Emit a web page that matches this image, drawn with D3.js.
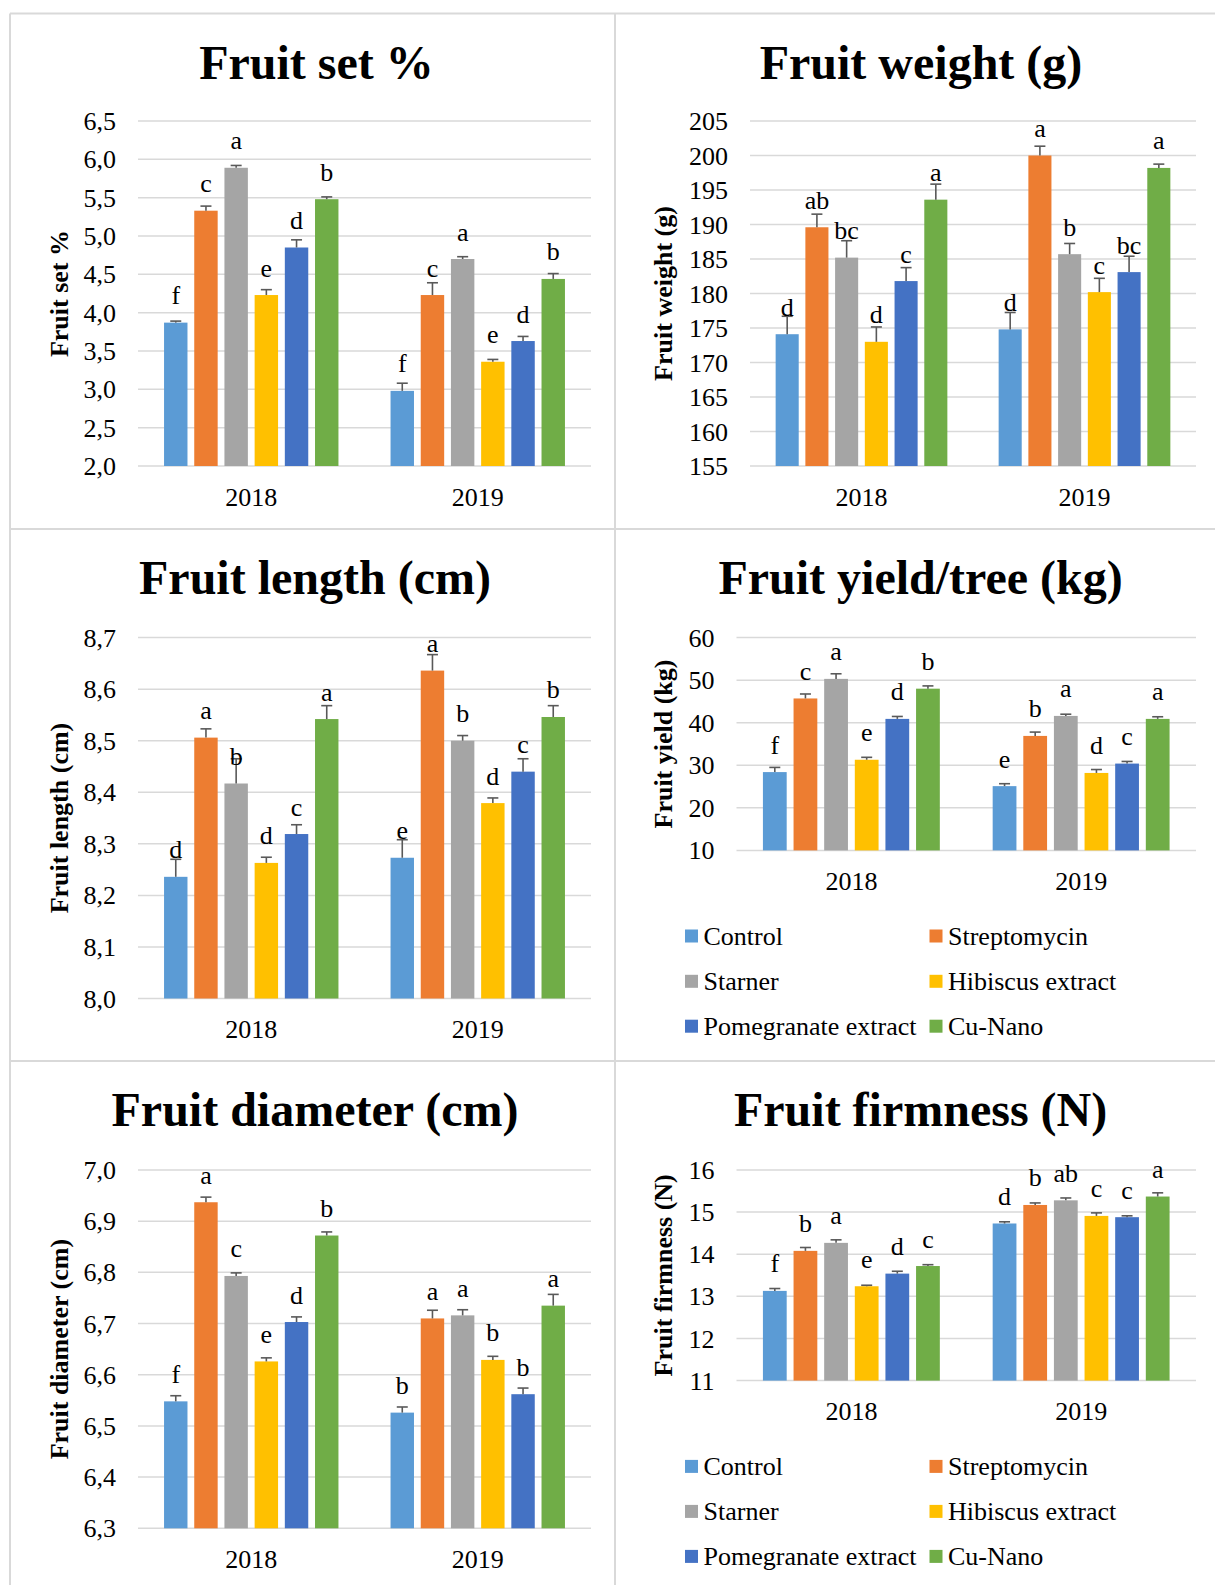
<!DOCTYPE html>
<html>
<head>
<meta charset="utf-8">
<script src="https://cdn.jsdelivr.net/npm/d3@7"></script>
<style>
  html, body { margin: 0; padding: 0; background: #fff; }
  svg { display: block; }
  text { font-family: "Liberation Serif", "Times New Roman", serif; fill: #000; }
</style>
</head>
<body>
<svg id="chart" width="1215" height="1585"></svg>
<script>
// ---------------- DATA ----------------
const years = ["2018", "2019"];
const treatments = ["Control", "Streptomycin", "Starner", "Hibiscus extract", "Pomegranate extract", "Cu-Nano"];
const treatmentColors = ["#5B9BD5", "#ED7D31", "#A5A5A5", "#FFC000", "#4472C4", "#70AD47"];

// Fruit set %
const fruitSetValues  = [[3.87, 5.33, 5.89, 4.23, 4.85, 5.48], [2.98, 4.23, 4.70, 3.36, 3.63, 4.44]];
const fruitSetErrors  = [[0.02, 0.06, 0.03, 0.07, 0.10, 0.03], [0.10, 0.16, 0.03, 0.03, 0.06, 0.07]];
const fruitSetLetters = [["f", "c", "a", "e", "d", "b"], ["f", "c", "a", "e", "d", "b"]];
const fruitSetTicks   = [2.0, 2.5, 3.0, 3.5, 4.0, 4.5, 5.0, 5.5, 6.0, 6.5];

// Fruit weight (g)
const fruitWeightValues  = [[174.1, 189.6, 185.2, 173.0, 181.8, 193.6], [174.8, 200.0, 185.7, 180.2, 183.1, 198.2]];
const fruitWeightErrors  = [[2.6, 1.9, 2.45, 2.15, 1.95, 2.25], [2.45, 1.35, 1.55, 2.0, 2.3, 0.55]];
const fruitWeightLetters = [["d", "ab", "bc", "d", "c", "a"], ["d", "a", "b", "c", "bc", "a"]];
const fruitWeightTicks   = [155, 160, 165, 170, 175, 180, 185, 190, 195, 200, 205];

// Fruit length (cm)
const fruitLengthValues  = [[8.236, 8.506, 8.417, 8.263, 8.319, 8.542], [8.273, 8.636, 8.500, 8.379, 8.440, 8.546]];
const fruitLengthErrors  = [[0.034, 0.017, 0.048, 0.011, 0.018, 0.026], [0.035, 0.031, 0.010, 0.010, 0.025, 0.022]];
const fruitLengthLetters = [["d", "a", "b", "d", "c", "a"], ["e", "a", "b", "d", "c", "b"]];
const fruitLengthTicks   = [8.0, 8.1, 8.2, 8.3, 8.4, 8.5, 8.6, 8.7];

// Fruit yield/tree (kg)
const fruitYieldValues  = [[28.4, 45.7, 50.3, 31.3, 40.9, 48.0], [25.1, 36.9, 41.6, 28.2, 30.4, 40.9]];
const fruitYieldErrors  = [[1.1, 1.05, 1.2, 0.57, 0.57, 0.65], [0.57, 0.9, 0.4, 0.8, 0.5, 0.5]];
const fruitYieldLetters = [["f", "c", "a", "e", "d", "b"], ["e", "b", "a", "d", "c", "a"]];
const fruitYieldTicks   = [10, 20, 30, 40, 50, 60];

// Fruit diameter (cm)
const fruitDiameterValues  = [[6.548, 6.937, 6.793, 6.626, 6.703, 6.872], [6.526, 6.710, 6.716, 6.629, 6.562, 6.735]];
const fruitDiameterErrors  = [[0.011, 0.010, 0.006, 0.007, 0.010, 0.007], [0.011, 0.016, 0.011, 0.007, 0.012, 0.022]];
const fruitDiameterLetters = [["f", "a", "c", "e", "d", "b"], ["b", "a", "a", "b", "b", "a"]];
const fruitDiameterTicks   = [6.3, 6.4, 6.5, 6.6, 6.7, 6.8, 6.9, 7.0];

// Fruit firmness (N)
const fruitFirmnessValues  = [[13.13, 14.08, 14.27, 13.24, 13.54, 13.72], [14.73, 15.17, 15.28, 14.91, 14.88, 15.37]];
const fruitFirmnessErrors  = [[0.056, 0.08, 0.072, 0.024, 0.056, 0.032], [0.04, 0.048, 0.056, 0.072, 0.032, 0.088]];
const fruitFirmnessLetters = [["f", "b", "a", "e", "d", "c"], ["d", "b", "ab", "c", "c", "a"]];
const fruitFirmnessTicks   = [11, 12, 13, 14, 15, 16];

// ---------------- LAYOUT ----------------
const panels = [
  { title: "Fruit set %", yTitle: "Fruit set %", values: fruitSetValues, errors: fruitSetErrors, letters: fruitSetLetters, ticks: fruitSetTicks, dec: 1,
    left: 138, right: 591, top: 121, bottom: 466, titleX: 316.5, titleY: 78.5, yTitleX: 68, legend: null },
  { title: "Fruit weight (g)", yTitle: "Fruit weight (g)", values: fruitWeightValues, errors: fruitWeightErrors, letters: fruitWeightLetters, ticks: fruitWeightTicks, dec: 0,
    left: 750, right: 1196, top: 121, bottom: 466, titleX: 921, titleY: 78.5, yTitleX: 672, legend: null },
  { title: "Fruit length (cm)", yTitle: "Fruit length (cm)", values: fruitLengthValues, errors: fruitLengthErrors, letters: fruitLengthLetters, ticks: fruitLengthTicks, dec: 1,
    left: 138, right: 591, top: 637.6, bottom: 998.5, titleX: 315, titleY: 594, yTitleX: 68, legend: null },
  { title: "Fruit yield/tree (kg)", yTitle: "Fruit yield (kg)", values: fruitYieldValues, errors: fruitYieldErrors, letters: fruitYieldLetters, ticks: fruitYieldTicks, dec: 0,
    left: 736.5, right: 1196, top: 637.6, bottom: 850.4, titleX: 920.6, titleY: 594, yTitleX: 672, legend: [936, 981.3, 1026.2] },
  { title: "Fruit diameter (cm)", yTitle: "Fruit diameter (cm)", values: fruitDiameterValues, errors: fruitDiameterErrors, letters: fruitDiameterLetters, ticks: fruitDiameterTicks, dec: 1,
    left: 138, right: 591, top: 1170, bottom: 1528.3, titleX: 315, titleY: 1126, yTitleX: 68, legend: null },
  { title: "Fruit firmness (N)", yTitle: "Fruit firmness (N)", values: fruitFirmnessValues, errors: fruitFirmnessErrors, letters: fruitFirmnessLetters, ticks: fruitFirmnessTicks, dec: 0,
    left: 736.5, right: 1196, top: 1170, bottom: 1380.6, titleX: 920.6, titleY: 1126, yTitleX: 672, legend: [1466.4, 1511.4, 1556.4] }
];

const SERIF = "'Liberation Serif', 'Times New Roman', serif";
const svg = d3.select("#chart");
svg.append("rect").attr("width", 1215).attr("height", 1585).attr("fill", "#fff");

// panel borders
const borderColor = "#d9d9d9";
const borders = svg.append("g").attr("stroke", borderColor).attr("stroke-width", 2);
borders.append("line").attr("x1", 10).attr("x2", 10).attr("y1", 13.5).attr("y2", 1585);
borders.append("line").attr("x1", 615).attr("x2", 615).attr("y1", 13.5).attr("y2", 1585);
[13.5, 529, 1061].forEach(y => borders.append("line").attr("x1", 10).attr("x2", 1215).attr("y1", y).attr("y2", y));

function fmt(v, dec) {
  return d3.format("." + dec + "f")(v).replace(".", ",");
}

panels.forEach(p => {
  const g = svg.append("g");
  const domain = d3.extent(p.ticks);
  const y = d3.scaleLinear().domain(domain).range([p.bottom, p.top]);
  const x0 = d3.scaleBand().domain(years).range([p.left, p.right]).padding(0);
  const groupFrac = 0.77;

  // title
  g.append("text").attr("x", p.titleX).attr("y", p.titleY)
    .attr("text-anchor", "middle").attr("font-weight", "bold").attr("font-size", 48)
    .text(p.title);

  // gridlines
  g.append("g").selectAll("line").data(p.ticks).join("line")
    .attr("x1", p.left).attr("x2", p.right)
    .attr("y1", d => y(d)).attr("y2", d => y(d))
    .attr("stroke", "#d9d9d9").attr("stroke-width", 1.5);

  // y axis tick labels
  const yAxis = d3.axisLeft(y).tickValues(p.ticks).tickSize(0).tickPadding(0).tickFormat(d => fmt(d, p.dec));
  const ya = g.append("g").attr("transform", `translate(${p.left - 22},0)`).call(yAxis);
  ya.select(".domain").remove();
  ya.attr("font-family", null).attr("font-size", null);
  ya.selectAll("text").style("font-size", "26px").style("fill", "#000")
    .style("font-family", SERIF).attr("dy", "0.33em");

  // y axis title
  g.append("text")
    .attr("transform", `translate(${p.yTitleX},${(p.top + p.bottom) / 2}) rotate(-90)`)
    .attr("text-anchor", "middle").attr("font-weight", "bold").attr("font-size", 26)
    .text(p.yTitle);

  // x axis labels
  const xAxis = d3.axisBottom(x0).tickSize(0).tickPadding(0);
  const xa = g.append("g").attr("transform", `translate(0,${p.bottom})`).call(xAxis);
  xa.select(".domain").remove();
  xa.attr("font-family", null).attr("font-size", null);
  xa.selectAll("text").style("font-size", "26px").style("fill", "#000")
    .style("font-family", SERIF)
    .attr("dy", null).attr("y", 39.5);

  // bars
  years.forEach((yr, yi) => {
    const c = x0(yr) + x0.bandwidth() / 2;
    const gw = x0.bandwidth() * groupFrac;
    const x1 = d3.scaleBand().domain(treatments).range([c - gw / 2, c + gw / 2]).paddingInner(0.224).paddingOuter(0);
    const rows = treatments.map((t, i) => ({ t, i, v: p.values[yi][i], e: p.errors[yi][i], l: p.letters[yi][i] }));
    const bg = g.append("g");
    bg.selectAll("rect").data(rows).join("rect")
      .attr("x", d => x1(d.t)).attr("width", x1.bandwidth())
      .attr("y", d => y(d.v)).attr("height", d => p.bottom - y(d.v))
      .attr("fill", d => treatmentColors[d.i]);
    // error bars
    const eb = bg.append("g").attr("stroke", "#595959").attr("stroke-width", 1.6);
    eb.selectAll("line.v").data(rows).join("line").attr("class", "v")
      .attr("x1", d => x1(d.t) + x1.bandwidth() / 2).attr("x2", d => x1(d.t) + x1.bandwidth() / 2)
      .attr("y1", d => y(d.v)).attr("y2", d => y(d.v + d.e));
    eb.selectAll("line.c").data(rows).join("line").attr("class", "c")
      .attr("x1", d => x1(d.t) + x1.bandwidth() / 2 - 5.5).attr("x2", d => x1(d.t) + x1.bandwidth() / 2 + 5.5)
      .attr("y1", d => y(d.v + d.e)).attr("y2", d => y(d.v + d.e));
    // letters
    bg.selectAll("text").data(rows).join("text")
      .attr("x", d => x1(d.t) + x1.bandwidth() / 2).attr("y", d => y(d.v) - 18.5)
      .attr("text-anchor", "middle").attr("font-size", 26)
      .text(d => d.l);
  });

  // legend
  if (p.legend) {
    const colX = [685, 929.5];
    const lg = g.append("g");
    treatments.forEach((t, i) => {
      const cx = colX[i % 2];
      const cy = p.legend[Math.floor(i / 2)];
      lg.append("rect").attr("x", cx).attr("y", cy - 6.5).attr("width", 13).attr("height", 13).attr("fill", treatmentColors[i]);
      lg.append("text").attr("x", cx + 18.5).attr("y", cy + 8.5).attr("font-size", 26).text(t);
    });
  }
});
</script>
</body>
</html>
